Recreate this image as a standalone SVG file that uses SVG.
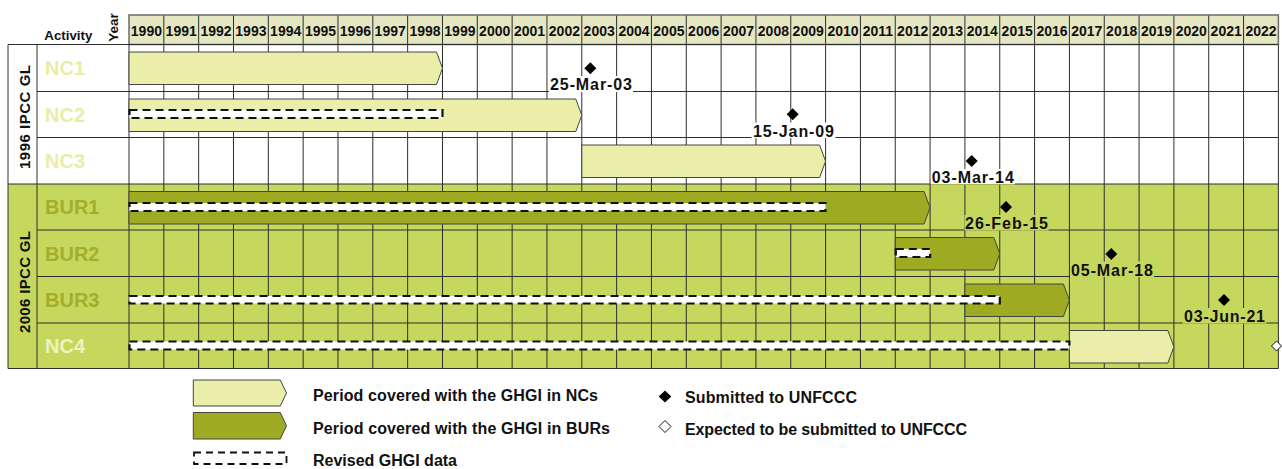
<svg xmlns="http://www.w3.org/2000/svg" width="1282" height="469" viewBox="0 0 1282 469">
<style>
text{font-family:"Liberation Sans",Arial,sans-serif;font-weight:bold;fill:#111}
.yr{font-size:14px;text-anchor:middle}
.grid{stroke:#2e2e2e;stroke-width:1;fill:none}
.act{font-size:20px}
.nc{fill:#e9eda6}
.bur{fill:#a3ae2c}
.nc4{fill:#eef3b9}
.pale{fill:#ebeea8;stroke:#444;stroke-width:1}
.dark{fill:#9eaa22;stroke:#444;stroke-width:1}
.dash{fill:#fff;stroke:#111;stroke-width:2.2;stroke-dasharray:8 5}
.dia{fill:#000}
.lbl{font-size:16px;text-anchor:middle}
.leg{font-size:16px}
</style>
<rect x="0" y="0" width="1282" height="469" fill="#fff"/>
<g id="backgrounds">
<rect x="8" y="44.5" width="1270.4" height="139.5" fill="#fff"/>
<rect x="8" y="184" width="1270.4" height="184.5" fill="#c5d75d"/>
<rect x="129" y="15" width="1149.4" height="29.5" fill="#e4e7c1"/>
</g>
<g id="grid">
<path class="grid" d="M129 44.5V368.5M163.83 44.5V368.5M198.66 44.5V368.5M233.49 44.5V368.5M268.32 44.5V368.5M303.15 44.5V368.5M337.98 44.5V368.5M372.81 44.5V368.5M407.64 44.5V368.5M442.47 44.5V368.5M477.3 44.5V368.5M512.13 44.5V368.5M546.96 44.5V368.5M581.79 44.5V368.5M616.62 44.5V368.5M651.45 44.5V368.5M686.28 44.5V368.5M721.11 44.5V368.5M755.94 44.5V368.5M790.77 44.5V368.5M825.6 44.5V368.5M860.43 44.5V368.5M895.26 44.5V368.5M930.09 44.5V368.5M964.92 44.5V368.5M999.75 44.5V368.5M1034.58 44.5V368.5M1069.41 44.5V368.5M1104.24 44.5V368.5M1139.07 44.5V368.5M1173.9 44.5V368.5M1208.73 44.5V368.5M1243.56 44.5V368.5M1278.39 44.5V368.5"/>
<path class="grid" d="M163.83 15V44.5M198.66 15V44.5M233.49 15V44.5M268.32 15V44.5M303.15 15V44.5M337.98 15V44.5M372.81 15V44.5M407.64 15V44.5M442.47 15V44.5M477.3 15V44.5M512.13 15V44.5M546.96 15V44.5M581.79 15V44.5M616.62 15V44.5M651.45 15V44.5M686.28 15V44.5M721.11 15V44.5M755.94 15V44.5M790.77 15V44.5M825.6 15V44.5M860.43 15V44.5M895.26 15V44.5M930.09 15V44.5M964.92 15V44.5M999.75 15V44.5M1034.58 15V44.5M1069.41 15V44.5M1104.24 15V44.5M1139.07 15V44.5M1173.9 15V44.5M1208.73 15V44.5M1243.56 15V44.5"/>
<rect x="129" y="15" width="1149.4" height="29.5" fill="none" stroke="#6b6b6b" stroke-width="1.5"/>
<path class="grid" d="M8 44.5H1278.4M37 91.5H1278.4M37 137.5H1278.4M8 184H1278.4M37 230H1278.4M37 276.5H1278.4M37 323H1278.4M8 368.5H1278.4M8 44.5V368.5M37 44.5V368.5"/>
</g>
<g id="header">
<text x="44.3" y="40" font-size="13.5" textLength="48" lengthAdjust="spacingAndGlyphs">Activity</text>
<text transform="translate(118.3,27.5) rotate(-90)" font-size="13.5" text-anchor="middle" textLength="28.5" lengthAdjust="spacingAndGlyphs">Year</text>
<text class="yr" x="146.4" y="36">1990</text>
<text class="yr" x="181.2" y="36">1991</text>
<text class="yr" x="216.1" y="36">1992</text>
<text class="yr" x="250.9" y="36">1993</text>
<text class="yr" x="285.7" y="36">1994</text>
<text class="yr" x="320.6" y="36">1995</text>
<text class="yr" x="355.4" y="36">1996</text>
<text class="yr" x="390.2" y="36">1997</text>
<text class="yr" x="425.1" y="36">1998</text>
<text class="yr" x="459.9" y="36">1999</text>
<text class="yr" x="494.7" y="36">2000</text>
<text class="yr" x="529.5" y="36">2001</text>
<text class="yr" x="564.4" y="36">2002</text>
<text class="yr" x="599.2" y="36">2003</text>
<text class="yr" x="634" y="36">2004</text>
<text class="yr" x="668.9" y="36">2005</text>
<text class="yr" x="703.7" y="36">2006</text>
<text class="yr" x="738.5" y="36">2007</text>
<text class="yr" x="773.4" y="36">2008</text>
<text class="yr" x="808.2" y="36">2009</text>
<text class="yr" x="843" y="36">2010</text>
<text class="yr" x="877.9" y="36">2011</text>
<text class="yr" x="912.7" y="36">2012</text>
<text class="yr" x="947.5" y="36">2013</text>
<text class="yr" x="982.3" y="36">2014</text>
<text class="yr" x="1017.2" y="36">2015</text>
<text class="yr" x="1052" y="36">2016</text>
<text class="yr" x="1086.8" y="36">2017</text>
<text class="yr" x="1121.7" y="36">2018</text>
<text class="yr" x="1156.5" y="36">2019</text>
<text class="yr" x="1191.3" y="36">2020</text>
<text class="yr" x="1226.2" y="36">2021</text>
<text class="yr" x="1261" y="36">2022</text>
</g>
<g id="group-1996">
<text transform="translate(30,117) rotate(-90)" font-size="15" text-anchor="middle" textLength="104" lengthAdjust="spacing">1996 IPCC GL</text>
</g>
<g id="group-2006">
<text transform="translate(30,282) rotate(-90)" font-size="15" text-anchor="middle" textLength="102" lengthAdjust="spacing">2006 IPCC GL</text>
</g>
<g id="NC1">
<text class="act nc" x="45" y="75.3">NC1</text>
<path class="pale" d="M129 52H436.5L442.5 68.25L436.5 84.5H129Z"/>
</g>
<g id="NC2">
<text class="act nc" x="45" y="121.8">NC2</text>
<path class="pale" d="M129 99H575.8L581.8 115.25L575.8 131.5H129Z"/>
<rect class="dash" x="129.5" y="110" width="313" height="8"/>
</g>
<g id="NC3">
<text class="act nc" x="45" y="168">NC3</text>
<path class="pale" d="M581.8 145H819.6L825.6 161.25L819.6 177.5H581.8Z"/>
</g>
<g id="BUR1">
<text class="act bur" x="45" y="214">BUR1</text>
<path class="dark" d="M129 191.5H924.1L930.1 207.75L924.1 224H129Z"/>
<rect class="dash" x="129.5" y="203" width="696" height="8"/>
</g>
<g id="BUR2">
<text class="act bur" x="45" y="260.5">BUR2</text>
<path class="dark" d="M895.3 237.5H993.8L999.8 253.75L993.8 270H895.3Z"/>
<rect class="dash" x="895.8" y="249" width="34.3" height="8"/>
</g>
<g id="BUR3">
<text class="act bur" x="45" y="307">BUR3</text>
<path class="dark" d="M964.9 284H1063.4L1069.4 300.25L1063.4 316.5H964.9Z"/>
<rect class="dash" x="129.5" y="296" width="870.3" height="7.5"/>
</g>
<g id="NC4">
<text class="act nc4" x="45" y="353">NC4</text>
<path class="pale" d="M1069.4 330.5H1167.9L1173.9 346.75L1167.9 363H1069.4Z"/>
<rect class="dash" x="129.5" y="341.5" width="939.9" height="8"/>
</g>
<g id="sub-NC1">
<rect x="549" y="76" width="84" height="16.1" fill="#fff"/>
<path class="dia" d="M590.3 62.3L596.3 68.3L590.3 74.3L584.3 68.3Z"/>
<text class="lbl" x="591" y="90" textLength="82" lengthAdjust="spacing">25-Mar-03</text>
</g>
<g id="sub-NC2">
<rect x="751.5" y="122.5" width="84" height="15.6" fill="#fff"/>
<path class="dia" d="M792.7 108.3L798.7 114.3L792.7 120.3L786.7 114.3Z"/>
<text class="lbl" x="793.5" y="136.5" textLength="81" lengthAdjust="spacing">15-Jan-09</text>
</g>
<g id="sub-NC3">
<rect x="930.8" y="169" width="84" height="15" fill="#fff"/>
<rect x="930.8" y="184" width="84" height="0.6" fill="#c5d75d"/>
<path class="dia" d="M971.7 155L977.7 161L971.7 167L965.7 161Z"/>
<text class="lbl" x="972.8" y="183" textLength="82" lengthAdjust="spacing">03-Mar-14</text>
</g>
<g id="sub-BUR1">
<rect x="964.5" y="215" width="84" height="15.6" fill="#c5d75d"/>
<path class="dia" d="M1006 201L1012 207L1006 213L1000 207Z"/>
<text class="lbl" x="1006.5" y="229" textLength="83" lengthAdjust="spacing">26-Feb-15</text>
</g>
<g id="sub-BUR2">
<rect x="1070" y="261.5" width="84" height="15.6" fill="#c5d75d"/>
<path class="dia" d="M1111.3 248L1117.3 254L1111.3 260L1105.3 254Z"/>
<text class="lbl" x="1112" y="275.5" textLength="82" lengthAdjust="spacing">05-Mar-18</text>
</g>
<g id="sub-BUR3">
<rect x="1182.5" y="308" width="84" height="15.6" fill="#c5d75d"/>
<path class="dia" d="M1224 294L1230 300L1224 306L1218 300Z"/>
<text class="lbl" x="1224.5" y="322" textLength="81" lengthAdjust="spacing">03-Jun-21</text>
</g>
<g id="sub-NC4">
<path d="M1276.5 341L1281.5 346L1276.5 351L1271.5 346Z" fill="#fff" stroke="#111" stroke-width="1"/>
</g>
<g id="legend">
<path class="pale" d="M193.3 380H280.3L286.5 393L280.3 406H193.3Z"/>
<text class="leg" x="313" y="401" textLength="285" lengthAdjust="spacing">Period covered with the GHGI in NCs</text>
<path class="dark" d="M193.3 412.5H280.3L286.5 425.75L280.3 439H193.3Z"/>
<text class="leg" x="313" y="434" textLength="297" lengthAdjust="spacing">Period covered with the GHGI in BURs</text>
<rect x="194" y="452.5" width="92.5" height="11.5" fill="none" stroke="#111" stroke-width="1.8" stroke-dasharray="7 5"/>
<text class="leg" x="313" y="466" textLength="144" lengthAdjust="spacing">Revised GHGI data</text>
<path class="dia" d="M665 390.5L671.3 396.5L665 402.5L658.7 396.5Z"/>
<text class="leg" x="685" y="403" textLength="172" lengthAdjust="spacing">Submitted to UNFCCC</text>
<path d="M665 420.5L671 426.5L665 432.5L659 426.5Z" fill="#fff" stroke="#111" stroke-width="1"/>
<text class="leg" x="685" y="435" textLength="282" lengthAdjust="spacing">Expected to be submitted to UNFCCC</text>
</g>
</svg>
